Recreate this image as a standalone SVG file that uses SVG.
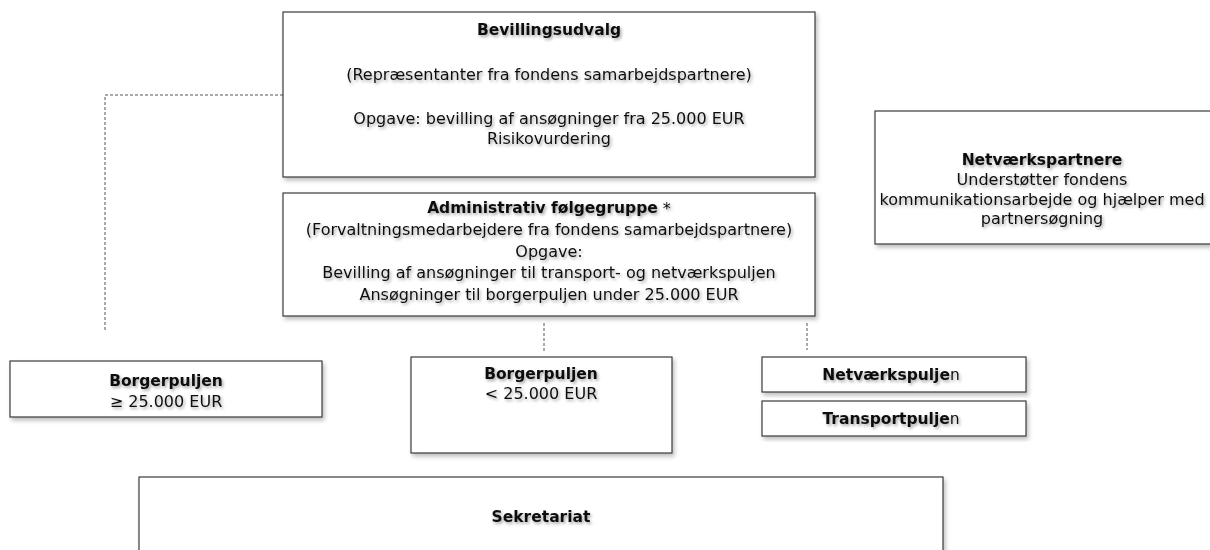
<svg xmlns="http://www.w3.org/2000/svg" width="1210" height="550" viewBox="0 0 1210 550">
  <defs>
    <filter id="boxShadow" x="-5%" y="-5%" width="112%" height="120%">
      <feDropShadow dx="2" dy="3" stdDeviation="2" flood-color="#000" flood-opacity="0.25"/>
    </filter>
    <filter id="txtShadow" x="-5%" y="-20%" width="115%" height="160%">
      <feDropShadow dx="1.5" dy="2" stdDeviation="1.5" flood-color="#000" flood-opacity="0.35"/>
    </filter>
  </defs>
  <style>
    .box { fill: #ffffff; stroke: #3a3a3a; stroke-width: 1.2; filter: url(#boxShadow); }
    .t { font-family: "DejaVu Sans", Verdana, sans-serif; font-size: 16px; fill: #111; text-anchor: middle; dominant-baseline: central; filter: url(#txtShadow); }
    .b { font-weight: bold; font-size: 15.5px; }
    .n { font-weight: normal; }
    .conn { fill: none; stroke: #555; stroke-width: 1; stroke-dasharray: 3 2; }
  </style>
  <rect width="1210" height="550" fill="#ffffff"/>

  <g id="connectors">
    <polyline class="conn" points="283,95 105,95 105,330"/>
    <line class="conn" x1="544" y1="323" x2="544" y2="353"/>
    <line class="conn" x1="807" y1="323" x2="807" y2="350"/>
  </g>

  <g id="bevillingsudvalg">
    <rect class="box" x="283" y="12" width="532" height="165"/>
    <text class="t b" x="549" y="30">Bevillingsudvalg</text>
    <text class="t" x="549" y="74">(Repræsentanter fra fondens samarbejdspartnere)</text>
    <text class="t" x="549" y="118">Opgave: bevilling af ansøgninger fra 25.000 EUR</text>
    <text class="t" x="549" y="138">Risikovurdering</text>
  </g>

  <g id="administrativ">
    <rect class="box" x="283" y="193" width="532" height="123"/>
    <text class="t" x="549" y="208"><tspan font-weight="bold" font-size="15.5px">Administrativ følgegruppe</tspan> *</text>
    <text class="t" x="549" y="229">(Forvaltningsmedarbejdere fra fondens samarbejdspartnere)</text>
    <text class="t" x="549" y="251">Opgave:</text>
    <text class="t" x="549" y="272">Bevilling af ansøgninger til transport- og netværkspuljen</text>
    <text class="t" x="549" y="294">Ansøgninger til borgerpuljen under 25.000 EUR</text>
  </g>

  <g id="netvaerkspartnere">
    <rect class="box" x="875" y="111" width="340" height="133"/>
    <text class="t b" x="1042" y="160">Netværkspartnere</text>
    <text class="t" x="1042" y="179">Understøtter fondens</text>
    <text class="t" x="1042" y="199">kommunikationsarbejde og hjælper med</text>
    <text class="t" x="1042" y="218">partnersøgning</text>
  </g>

  <g id="borgerpuljen-stor">
    <rect class="box" x="10" y="361" width="312" height="56"/>
    <text class="t b" x="166" y="381">Borgerpuljen</text>
    <text class="t" x="166" y="401">≥ 25.000 EUR</text>
  </g>

  <g id="borgerpuljen-lille">
    <rect class="box" x="411" y="357" width="261" height="96"/>
    <text class="t b" x="541" y="374">Borgerpuljen</text>
    <text class="t" x="541" y="393">&lt; 25.000 EUR</text>
  </g>

  <g id="netvaerkspuljen">
    <rect class="box" x="762" y="357" width="264" height="35"/>
    <text class="t b" x="891" y="375">Netværkspulje<tspan class="n">n</tspan></text>
  </g>

  <g id="transportpuljen">
    <rect class="box" x="762" y="401" width="264" height="35"/>
    <text class="t b" x="891" y="419">Transportpulje<tspan class="n">n</tspan></text>
  </g>

  <g id="sekretariat">
    <rect class="box" x="139" y="477" width="804" height="90"/>
    <text class="t b" x="541" y="517">Sekretariat</text>
  </g>
</svg>
